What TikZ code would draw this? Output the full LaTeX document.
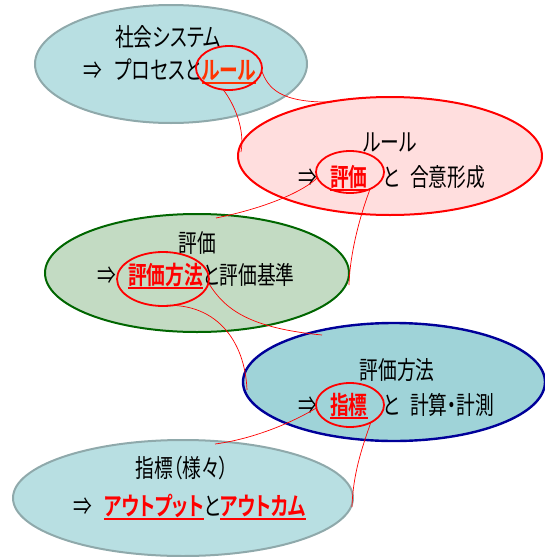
\documentclass[tikz,border=0pt]{standalone}
\usepackage{fontspec}
\usetikzlibrary{shapes.geometric}
\newfontfamily\jp[FakeStretch=0.75,RawFeature=+palt,BoldFont={* Bold}]{Noto Sans CJK JP}
\definecolor{tealfill}{HTML}{B8DFE2}
\definecolor{tealline}{HTML}{8FA9AB}
\definecolor{pinkfill}{HTML}{FFDEDE}
\definecolor{greenfill}{HTML}{C3DBC3}
\definecolor{greenline}{HTML}{006600}
\definecolor{bluefill}{HTML}{9FD3D8}
\definecolor{blueline}{HTML}{000099}
\definecolor{orred}{HTML}{FF3300}
\definecolor{myred}{HTML}{FF0000}
\newcommand{\hl}[2][myred]{{\bfseries\color{#1}\setbox0\hbox{#2}\rlap{\rule[-4.5pt]{\wd0}{1.8pt}}\box0}}
\begin{document}
\begin{tikzpicture}[x=1pt,y=-1pt,
  bigell/.style={ellipse,inner sep=0pt,outer sep=0pt,line width=2pt},
  redell/.style={ellipse,draw=myred,line width=1.8pt,inner sep=0pt,outer sep=0pt},
  conn/.style={draw=myred,line width=0.7pt},
  txt/.style={inner sep=0pt,outer sep=0pt,font=\jp\fontsize{25}{25}\selectfont,text=black},
  bw/.style={txt,anchor=base west},
  bc/.style={txt,anchor=base}]
\useasboundingbox (0,0) rectangle (545,557);
% big ellipses
\node[bigell,fill=tealfill,draw=tealline,minimum width=272pt,minimum height=118pt] (e1) at (171,64) {};
\node[bigell,fill=pinkfill,draw=myred,minimum width=304pt,minimum height=118pt] (e2) at (390,156) {};
\node[bigell,fill=greenfill,draw=greenline,minimum width=304pt,minimum height=118pt] (e3) at (197,273) {};
\node[bigell,fill=bluefill,draw=blueline,line width=2.4pt,minimum width=302pt,minimum height=118pt] (e4) at (394,382) {};
\node[bigell,fill=tealfill,draw=tealline,minimum width=340pt,minimum height=116pt] (e5) at (183,498) {};
% texts ellipse 1
\node[bc] (t1a) at (168,46.5) {社会システム};
\node[bw] (t1b) at (83,79.5) {⇒};
\node[bw] (t1c) at (115,79.5) {プロセスと\hl[orred]{ルール}};
% ellipse 2
\node[bc] (t2a) at (390,151.5) {ルール};
\node[bw] (t2b) at (298,186.5) {⇒};
\node[bw] (t2c) at (330,186.5) {\hl{評価}};
\node[bw] (t2d) at (383,186.5) {と};
\node[bw] (t2e) at (410,186.5) {合意形成};
% ellipse 3
\node[bc] (t3a) at (197,252.5) {評価};
\node[bw] (t3b) at (97,284.5) {⇒};
\node[bw] (t3c) at (128,284.5) {\hl{評価方法}と評価基準};
% ellipse 4
\node[bc] (t4a) at (397,379.5) {評価方法};
\node[bw] (t4b) at (298,414.5) {⇒};
\node[bw] (t4c) at (330,414.5) {\hl{指標}};
\node[bw] (t4d) at (383,414.5) {と};
\node[bw] (t4e) at (410,414.5) {計算・計測};
% ellipse 5
\node[bc] (t5a) at (182,477.5) {指標（様々）};
\node[bw] (t5b) at (73,515.5) {⇒};
\node[bw] (t5c) at (104,515.5) {\hl{アウトプット}と\hl{アウトカム}};
% small red ellipses
\node[redell,minimum width=66pt,minimum height=44pt] (r1) at (229,68) {};
\node[redell,minimum width=68pt,minimum height=42pt] (r2) at (350,172) {};
\node[redell,minimum width=92pt,minimum height=54pt] (r3) at (163,279) {};
\node[redell,minimum width=68pt,minimum height=44pt] (r4) at (350,405) {};
% connector end points
\coordinate (c1a) at (332,102);
\coordinate (c1b) at (241,152);
\coordinate (c2a) at (216,218);
\coordinate (c2b) at (349,285);
\coordinate (c3a) at (247,390);
\coordinate (c3b) at (322,335);
\coordinate (c4a) at (215,444);
\coordinate (c4b) at (352,507);
% connectors
\draw[conn] (r1.-5) .. controls (268,88) and (280,103) .. (c1a);
\draw[conn] (r1.-105) .. controls (235,105) and (245,130) .. (c1b);
\draw[conn] (r2.190) .. controls (305,190) and (270,207) .. (c2a);
\draw[conn] (r2.-40) .. controls (362,210) and (350,250) .. (c2b);
\draw[conn] (r3.-100) .. controls (215,300) and (245,340) .. (c3a);
\draw[conn] (r3.-5) .. controls (225,310) and (250,328) .. (c3b);
\draw[conn] (r4.185) .. controls (300,418) and (260,438) .. (c4a);
\draw[conn] (r4.-40) .. controls (365,440) and (353,470) .. (c4b);
\end{tikzpicture}
\end{document}
